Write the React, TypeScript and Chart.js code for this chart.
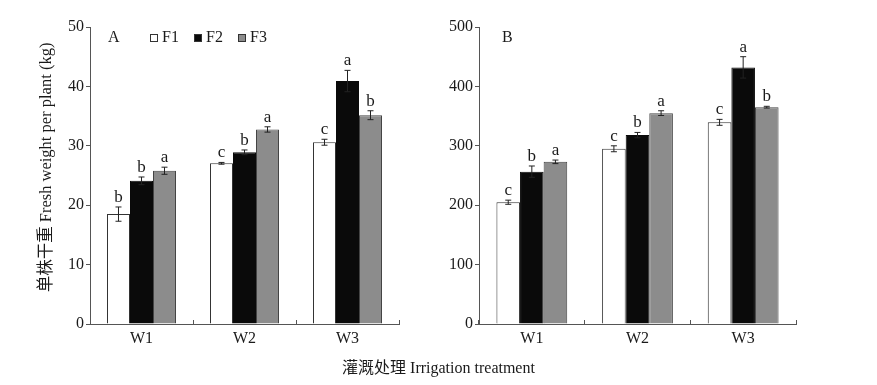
import React, { useEffect, useRef } from "react";
import { Chart, registerables } from "chart.js";
Chart.register(...registerables);

const categories = ["W1", "W2", "W3"];
const seriesNames = ["F1", "F2", "F3"];

// Panel A: fresh weight per plant (kg)
const aF1 = [18.5, 27.05, 30.6];
const aF2 = [24.1, 28.9, 40.9];
const aF3 = [25.8, 32.75, 35.15];
const aErrF1 = [1.2, 0.15, 0.5];
const aErrF2 = [0.65, 0.4, 1.8];
const aErrF3 = [0.6, 0.45, 0.75];
const aLettersF1 = ["b", "c", "c"];
const aLettersF2 = ["b", "b", "a"];
const aLettersF3 = ["a", "a", "b"];

// Panel B
const bF1 = [205, 295, 339.5];
const bF2 = [256.5, 318, 432];
const bF3 = [273, 355, 365];
const bErrF1 = [3.5, 5, 5];
const bErrF2 = [9.5, 4.5, 18];
const bErrF3 = [3, 4, 1.5];
const bLettersF1 = ["c", "c", "c"];
const bLettersF2 = ["b", "b", "a"];
const bLettersF3 = ["a", "a", "b"];

const FONT = "'Liberation Serif', 'Noto Sans CJK SC', serif";
const TXT = "#1a1a1a";
const AXIS = "#555555";
const fills = ["#ffffff", "#0a0a0a", "#8c8c8c"];
const borders = ["#333333", "#0a0a0a", "#444444"];

function makeChart(
  canvas: HTMLCanvasElement,
  values: number[][],
  errs: number[][],
  letters: string[][],
  opts: {
    max: number;
    step: number;
    yWidth: number;
    padRight: number;
    panel: string;
    panelX: number;
    legend: boolean;
    yTitle: boolean;
  }
) {
  const annot = {
    id: "annot",
    afterDatasetsDraw(chart: any) {
      const ctx = chart.ctx;
      const ys = chart.scales.y;
      ctx.save();
      values.forEach((vals, i) => {
        const meta = chart.getDatasetMeta(i);
        meta.data.forEach((el: any, j: number) => {
          const v = vals[j];
          const e = errs[i][j];
          const x = el.x;
          const yt = ys.getPixelForValue(v + e);
          const yb = ys.getPixelForValue(v - e);
          ctx.strokeStyle = "#222";
          ctx.lineWidth = 1;
          ctx.beginPath();
          ctx.moveTo(x, yt);
          ctx.lineTo(x, yb);
          ctx.moveTo(x - 3, yt);
          ctx.lineTo(x + 3, yt);
          ctx.moveTo(x - 3, yb);
          ctx.lineTo(x + 3, yb);
          ctx.stroke();
          ctx.fillStyle = TXT;
          ctx.font = "17px " + FONT;
          ctx.textAlign = "center";
          ctx.textBaseline = "alphabetic";
          ctx.fillText(letters[i][j], x, yt - 5);
        });
      });
      // panel label
      ctx.font = "16px " + FONT;
      ctx.textAlign = "left";
      ctx.textBaseline = "middle";
      ctx.fillStyle = TXT;
      ctx.fillText(opts.panel, opts.panelX, 38);
      if (opts.legend) {
        const xs = [150, 194, 238];
        seriesNames.forEach((n, i) => {
          ctx.fillStyle = fills[i];
          ctx.fillRect(xs[i], 34, 7, 7);
          ctx.strokeStyle = "#333";
          ctx.lineWidth = 1;
          ctx.strokeRect(xs[i] + 0.5, 34.5, 7, 7);
          ctx.fillStyle = TXT;
          ctx.fillText(n, xs[i] + 12, 38);
        });
      }
      if (opts.yTitle) {
        ctx.translate(47, 167.5);
        ctx.rotate(-Math.PI / 2);
        ctx.textAlign = "center";
        ctx.textBaseline = "middle";
        ctx.fillStyle = TXT;
        ctx.font = "16.5px " + FONT;
        ctx.fillText("单株干重 Fresh weight per plant (kg)", 0, 0);
      }
      ctx.restore();
    },
  };

  return new Chart(canvas, {
    type: "bar",
    data: {
      labels: categories,
      datasets: values.map((vals, i) => ({
        label: seriesNames[i],
        data: vals,
        backgroundColor: fills[i],
        borderColor: borders[i],
        borderWidth: 1,
        categoryPercentage: 0.67,
        barPercentage: 1,
      })),
    },
    options: {
      animation: false,
      responsive: false,
      maintainAspectRatio: false,
      layout: { padding: { top: 27, right: opts.padRight, bottom: 0, left: 0 } },
      plugins: { legend: { display: false }, tooltip: { enabled: false } },
      scales: {
        x: {
          grid: {
            drawOnChartArea: false,
            drawTicks: true,
            tickLength: -4,
            color: AXIS,
            offset: true,
          },
          border: { color: AXIS, width: 1 },
          ticks: { color: TXT, font: { family: FONT, size: 16 }, padding: 9 },
          afterFit(scale: any) {
            scale.height = 61;
          },
        },
        y: {
          min: 0,
          max: opts.max,
          grid: { drawOnChartArea: false, drawTicks: true, tickLength: 4, color: AXIS },
          border: { color: AXIS, width: 1 },
          ticks: {
            stepSize: opts.step,
            color: TXT,
            font: { family: FONT, size: 16 },
            padding: 2,
          },
          afterFit(scale: any) {
            scale.width = opts.yWidth;
          },
        },
      },
    },
    plugins: [annot],
  });
}

export default function App() {
  const leftRef = useRef<HTMLCanvasElement>(null);
  const rightRef = useRef<HTMLCanvasElement>(null);

  useEffect(() => {
    const c1 = makeChart(
      leftRef.current!,
      [aF1, aF2, aF3],
      [aErrF1, aErrF2, aErrF3],
      [aLettersF1, aLettersF2, aLettersF3],
      { max: 50, step: 10, yWidth: 90, padRight: 41, panel: "A", panelX: 108, legend: true, yTitle: true }
    );
    const c2 = makeChart(
      rightRef.current!,
      [bF1, bF2, bF3],
      [bErrF1, bErrF2, bErrF3],
      [bLettersF1, bLettersF2, bLettersF3],
      { max: 500, step: 100, yWidth: 39, padRight: 81, panel: "B", panelX: 62, legend: false, yTitle: false }
    );
    return () => {
      c1.destroy();
      c2.destroy();
    };
  }, []);

  return (
    <div
      style={{
        position: "absolute",
        left: 0,
        top: 0,
        width: 877,
        height: 385,
        background: "#ffffff",
        overflow: "hidden",
      }}
    >
      <canvas
        ref={leftRef}
        width={440}
        height={385}
        style={{ position: "absolute", left: 0, top: 0, width: 440, height: 385 }}
      />
      <canvas
        ref={rightRef}
        width={437}
        height={385}
        style={{ position: "absolute", left: 440, top: 0, width: 437, height: 385 }}
      />
      <div
        style={{
          position: "absolute",
          left: 0,
          width: 877,
          top: 359,
          textAlign: "center",
          fontFamily: FONT,
          fontSize: 16,
          color: TXT,
          lineHeight: "18px",
          whiteSpace: "nowrap",
        }}
      >
        灌溉处理 Irrigation treatment
      </div>
    </div>
  );
}
